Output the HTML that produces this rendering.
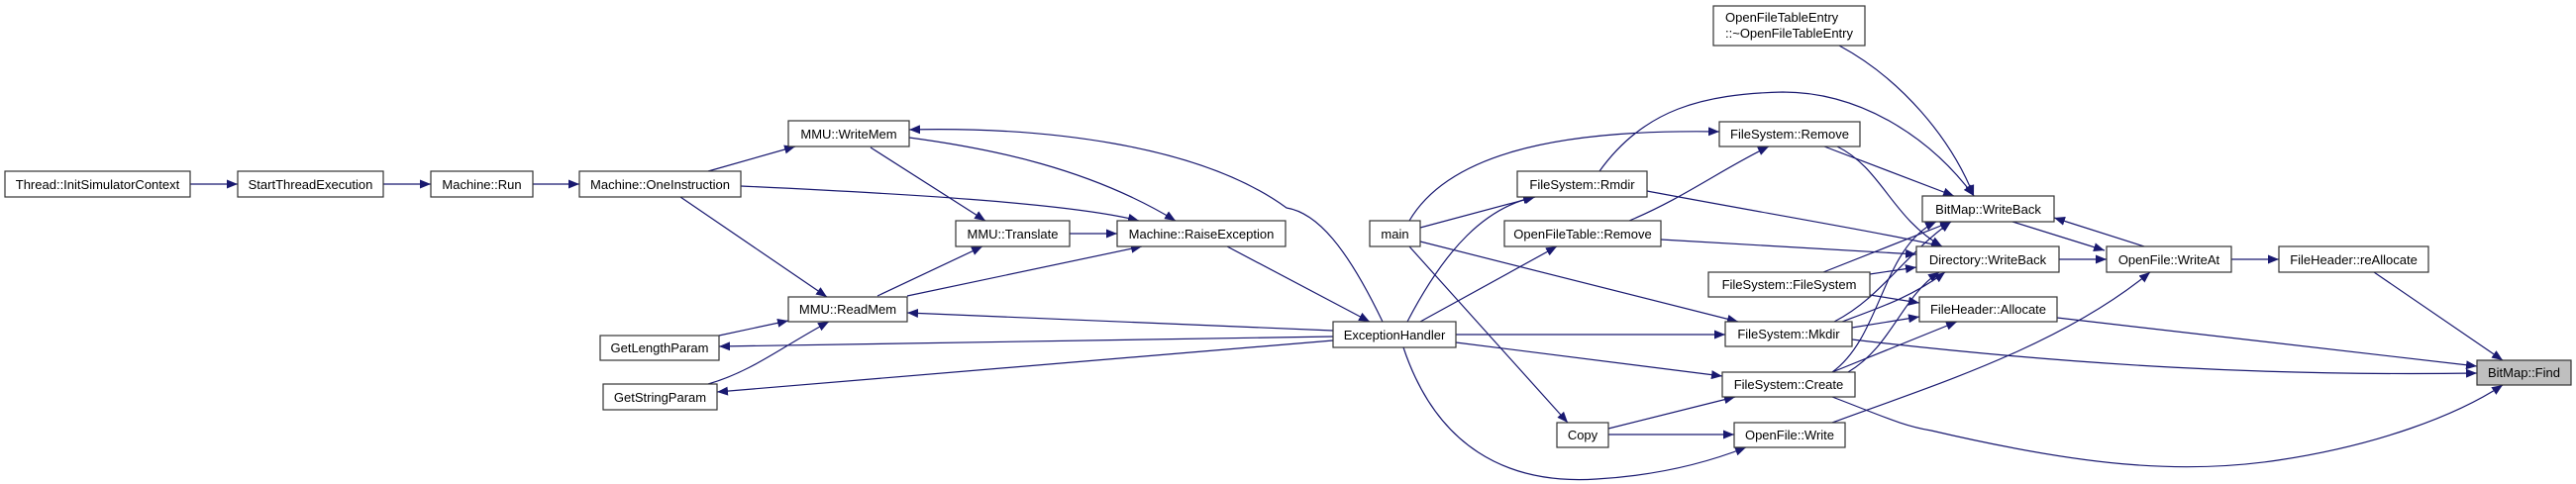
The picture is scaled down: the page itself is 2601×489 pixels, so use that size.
<!DOCTYPE html>
<html><head><meta charset="utf-8"><style>
html,body{margin:0;padding:0;background:#fff;}
svg{display:block;}
text{font-family:"Liberation Sans",Arial,sans-serif;font-size:13px;fill:#000;}
.e{fill:none;stroke:#191970;stroke-width:1.2;marker-end:url(#a);}
.n{fill:#fff;stroke:#333;stroke-width:1.2;}
</style></head><body>
<svg width="2601" height="489" viewBox="0 0 2601 489" xmlns="http://www.w3.org/2000/svg">
<defs><marker id="a" markerUnits="userSpaceOnUse" markerWidth="12" markerHeight="9" refX="11" refY="4.5" orient="auto"><path d="M0,0 L11,4.5 L0,9 z" fill="#191970"/></marker></defs>
<g>
<path class="e" d="M192,186 L240,186"/>
<path class="e" d="M387,186 L435,186"/>
<path class="e" d="M538,186 L585,186"/>
<path class="e" d="M715,173 L803,148"/>
<path class="e" d="M748,188 C900,195 1080,205 1150,223"/>
<path class="e" d="M687,199 L835,300"/>
<path class="e" d="M879,149 L995,223"/>
<path class="e" d="M918,139 C1000,150 1100,170 1187,223"/>
<path class="e" d="M1396,325 C1360,250 1330,215 1299,210 C1210,145 1050,128 918,131"/>
<path class="e" d="M886,299 L992,249"/>
<path class="e" d="M916,299 L1153,249"/>
<path class="e" d="M1080,236 L1128,236"/>
<path class="e" d="M1239,249 L1383,325"/>
<path class="e" d="M1346,334 L916,316"/>
<path class="e" d="M1346,340 L726,350"/>
<path class="e" d="M1346,344 L724,396"/>
<path class="e" d="M726,339 L796,324"/>
<path class="e" d="M715,388 C760,375 790,350 837,325"/>
<path class="e" d="M1421,325 C1460,250 1500,210 1549,199"/>
<path class="e" d="M1434,325 L1572,249"/>
<path class="e" d="M1434,230 L1550,199"/>
<path class="e" d="M1423,249 L1583,427"/>
<path class="e" d="M1434,244 L1755,325"/>
<path class="e" d="M1423,223 C1460,160 1560,130 1736,133"/>
<path class="e" d="M1615,173 C1660,110 1720,95 1800,93 C1880,93 1950,140 1993,198"/>
<path class="e" d="M1663,193 C1780,215 1900,235 1961,249"/>
<path class="e" d="M1645,223 C1700,200 1740,170 1786,148"/>
<path class="e" d="M1677,242 L1935,257"/>
<path class="e" d="M1470,338 L1742,338"/>
<path class="e" d="M1470,346 L1739,380"/>
<path class="e" d="M1417,351 C1450,450 1520,490 1612,484 C1680,480 1730,465 1763,452"/>
<path class="e" d="M1624,433 L1752,401"/>
<path class="e" d="M1624,439 L1751,439"/>
<path class="e" d="M1842,148 L1973,198"/>
<path class="e" d="M1855,148 C1900,170 1910,220 1961,249"/>
<path class="e" d="M1857,46 C1920,80 1970,140 1993,198"/>
<path class="e" d="M1841,275 L1970,224"/>
<path class="e" d="M1888,277 L1935,270"/>
<path class="e" d="M1888,298 L1938,306"/>
<path class="e" d="M1852,325 C1900,300 1920,260 1970,224"/>
<path class="e" d="M1860,325 C1900,310 1930,300 1964,275"/>
<path class="e" d="M1870,331 L1938,320"/>
<path class="e" d="M1870,343 C2100,370 2300,380 2501,377"/>
<path class="e" d="M1850,376 C1900,340 1900,250 1955,224"/>
<path class="e" d="M1866,376 C1910,350 1920,300 1958,275"/>
<path class="e" d="M1850,376 L1976,325"/>
<path class="e" d="M1850,401 C1900,420 1920,430 1950,435 C2100,470 2200,480 2300,465 C2400,450 2480,420 2527,389"/>
<path class="e" d="M1850,427 C1950,390 2080,350 2171,275"/>
<path class="e" d="M2032,224 L2125,253"/>
<path class="e" d="M2165,249 L2074,220"/>
<path class="e" d="M2079,262 L2127,262"/>
<path class="e" d="M2253,262 L2301,262"/>
<path class="e" d="M2397,275 L2527,364"/>
<path class="e" d="M2077,321 L2501,370"/>
</g>
<g>
<rect class="n" x="5" y="173" width="187" height="26"/><text x="98.5" y="191" text-anchor="middle">Thread::InitSimulatorContext</text>
<rect class="n" x="240" y="173" width="147" height="26"/><text x="313.5" y="191" text-anchor="middle">StartThreadExecution</text>
<rect class="n" x="435" y="173" width="103" height="26"/><text x="486.5" y="191" text-anchor="middle">Machine::Run</text>
<rect class="n" x="585" y="173" width="163" height="26"/><text x="666.5" y="191" text-anchor="middle">Machine::OneInstruction</text>
<rect class="n" x="796" y="122" width="122" height="26"/><text x="857" y="140" text-anchor="middle">MMU::WriteMem</text>
<rect class="n" x="796" y="300" width="120" height="25"/><text x="856" y="317" text-anchor="middle">MMU::ReadMem</text>
<rect class="n" x="606" y="339" width="120" height="25"/><text x="666" y="356" text-anchor="middle">GetLengthParam</text>
<rect class="n" x="609" y="388" width="115" height="26"/><text x="666.5" y="406" text-anchor="middle">GetStringParam</text>
<rect class="n" x="965" y="223" width="115" height="26"/><text x="1022.5" y="241" text-anchor="middle">MMU::Translate</text>
<rect class="n" x="1128" y="223" width="170" height="26"/><text x="1213" y="241" text-anchor="middle">Machine::RaiseException</text>
<rect class="n" x="1346" y="325" width="124" height="26"/><text x="1408" y="343" text-anchor="middle">ExceptionHandler</text>
<rect class="n" x="1383" y="223" width="51" height="26"/><text x="1408.5" y="241" text-anchor="middle">main</text>
<rect class="n" x="1532" y="173" width="131" height="26"/><text x="1597.5" y="191" text-anchor="middle">FileSystem::Rmdir</text>
<rect class="n" x="1519" y="223" width="158" height="26"/><text x="1598" y="241" text-anchor="middle">OpenFileTable::Remove</text>
<rect class="n" x="1572" y="427" width="52" height="25"/><text x="1598" y="444" text-anchor="middle">Copy</text>
<rect class="n" x="1736" y="123" width="142" height="25"/><text x="1807" y="140" text-anchor="middle">FileSystem::Remove</text>
<rect class="n" x="1730" y="6" width="153" height="40"/><text x="1742" y="22">OpenFileTableEntry</text><text x="1742" y="38">::~OpenFileTableEntry</text>
<rect class="n" x="1941" y="198" width="133" height="26"/><text x="2007.5" y="216" text-anchor="middle">BitMap::WriteBack</text>
<rect class="n" x="1935" y="249" width="144" height="26"/><text x="2007" y="267" text-anchor="middle">Directory::WriteBack</text>
<rect class="n" x="2127" y="249" width="126" height="26"/><text x="2190" y="267" text-anchor="middle">OpenFile::WriteAt</text>
<rect class="n" x="2301" y="249" width="151" height="26"/><text x="2376.5" y="267" text-anchor="middle">FileHeader::reAllocate</text>
<rect class="n" x="1725" y="275" width="163" height="25"/><text x="1806.5" y="292" text-anchor="middle">FileSystem::FileSystem</text>
<rect class="n" x="1938" y="300" width="139" height="25"/><text x="2007.5" y="317" text-anchor="middle">FileHeader::Allocate</text>
<rect class="n" x="1742" y="325" width="128" height="25"/><text x="1806" y="342" text-anchor="middle">FileSystem::Mkdir</text>
<rect x="2501" y="364" width="95" height="25" fill="#bfbfbf" stroke="#333" stroke-width="1.2"/><text x="2548.5" y="381" text-anchor="middle">BitMap::Find</text>
<rect class="n" x="1739" y="376" width="134" height="25"/><text x="1806" y="393" text-anchor="middle">FileSystem::Create</text>
<rect class="n" x="1751" y="427" width="112" height="25"/><text x="1807" y="444" text-anchor="middle">OpenFile::Write</text>
</g>
</svg>
</body></html>
